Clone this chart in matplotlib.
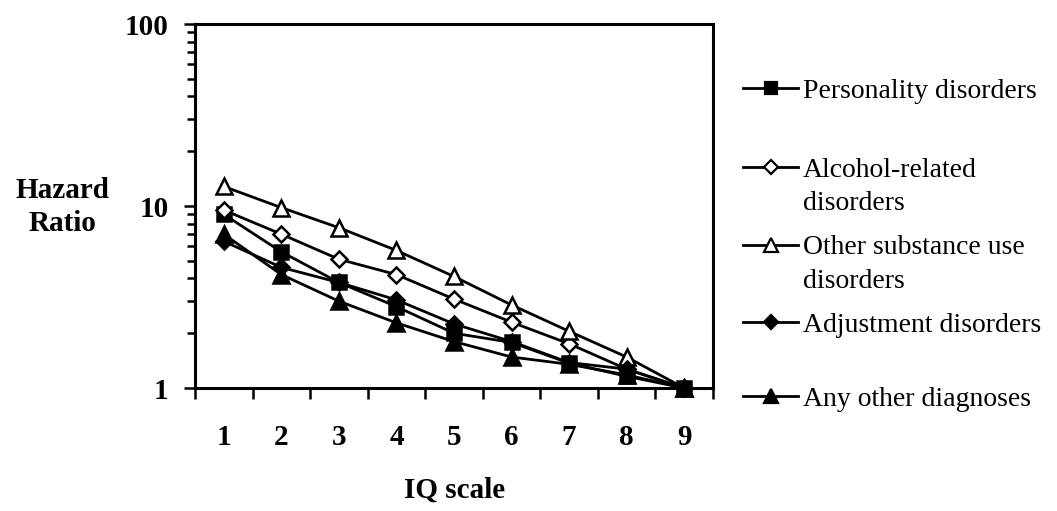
import matplotlib
matplotlib.use("Agg")
import matplotlib.pyplot as plt
from matplotlib.lines import Line2D
from matplotlib.ticker import FixedLocator, NullFormatter

plt.rcParams['font.family'] = ['Liberation Serif', 'DejaVu Serif']

# IQ scale categories
iq_scale = [1, 2, 3, 4, 5, 6, 7, 8, 9]

# hazard ratios
personality = [9.0, 5.6, 3.8, 2.8, 2.0, 1.78, 1.37, 1.16, 1.0]
alcohol = [9.5, 7.0, 5.1, 4.2, 3.08, 2.3, 1.75, 1.27, 1.0]
other_substance = [12.8, 9.8, 7.6, 5.7, 4.1, 2.86, 2.05, 1.48, 1.0]
adjustment = [6.4, 4.6, 3.8, 3.05, 2.25, 1.8, 1.38, 1.27, 1.0]
any_other = [7.0, 4.2, 3.0, 2.28, 1.8, 1.48, 1.35, 1.18, 1.0]

series_names = ["Personality disorders", "Alcohol-related\ndisorders",
                "Other substance use\ndisorders", "Adjustment disorders",
                "Any other diagnoses"]

styles = [
    dict(marker='s', mfc='black', ms=10.5),
    dict(marker='D', mfc='white', ms=8.5),
    dict(marker='^', mfc='white', ms=12),
    dict(marker='D', mfc='black', ms=8.5),
    dict(marker='^', mfc='black', ms=12),
]

fig = plt.figure(figsize=(10.57, 5.11), dpi=100)
ax = fig.add_axes([0.1845, 0.2407, 0.49, 0.7123])

all_series = [personality, alcohol, other_substance, adjustment, any_other]
for vals, st in zip(all_series, styles):
    ax.plot(iq_scale, vals, color='black', lw=2.0, mec='black', mew=1.8,
            clip_on=False, **st)

ax.set_yscale('log')
ax.set_ylim(1, 100)
ax.set_xlim(0.5, 9.5)

ax.yaxis.set_major_locator(FixedLocator([1, 10, 100]))
ax.yaxis.set_minor_locator(FixedLocator([m * d for d in (1, 10) for m in range(2, 10)]))
ax.yaxis.set_minor_formatter(NullFormatter())
ax.set_yticklabels(['1', '10', '100'])
ax.tick_params(axis='y', which='major', direction='out', length=8, width=1.8,
               labelsize=21, pad=11)
ax.tick_params(axis='y', which='minor', direction='out', length=6, width=1.8)
for lab in ax.get_yticklabels():
    lab.set_fontweight('bold')

# category ticks between labels, labels at centres
ax.xaxis.set_major_locator(FixedLocator(iq_scale))
ax.set_xticklabels([str(v) for v in iq_scale])
ax.xaxis.set_minor_locator(FixedLocator([v + 0.5 for v in range(0, 10)]))
ax.tick_params(axis='x', which='major', length=0, labelsize=21, pad=26)
ax.tick_params(axis='x', which='minor', direction='out', length=8, width=1.8)
for lab in ax.get_xticklabels():
    lab.set_fontweight('bold')

for sp in ax.spines.values():
    sp.set_linewidth(2.2)

fig.text(0.059, 0.595, "Hazard\nRatio", ha='center', va='center',
         fontsize=21, fontweight='bold', linespacing=1.3)
fig.text(0.43, 0.041, "IQ scale", ha='center', va='center',
         fontsize=21, fontweight='bold')

# hand-placed legend to the right of the plot (y in pixels from top)
legend_y_px = [88, 167, 245, 322, 396]
for name, st, ypx in zip(series_names, styles, legend_y_px):
    y = 1 - ypx / 511
    fig.add_artist(Line2D([743 / 1057, 798 / 1057], [y, y],
                          transform=fig.transFigure, color='black', lw=2.0))
    fig.add_artist(Line2D([771 / 1057], [y], transform=fig.transFigure,
                          lw=0, mec='black', mew=1.6, marker=st['marker'],
                          mfc=st['mfc'], ms=st['ms'] * 0.85))
    for i, part in enumerate(name.split("\n")):
        fig.text(803 / 1057, y - i * 33 / 511, part, ha='left',
                 va='center_baseline', fontsize=20)

fig.savefig("out.png", dpi=100)
